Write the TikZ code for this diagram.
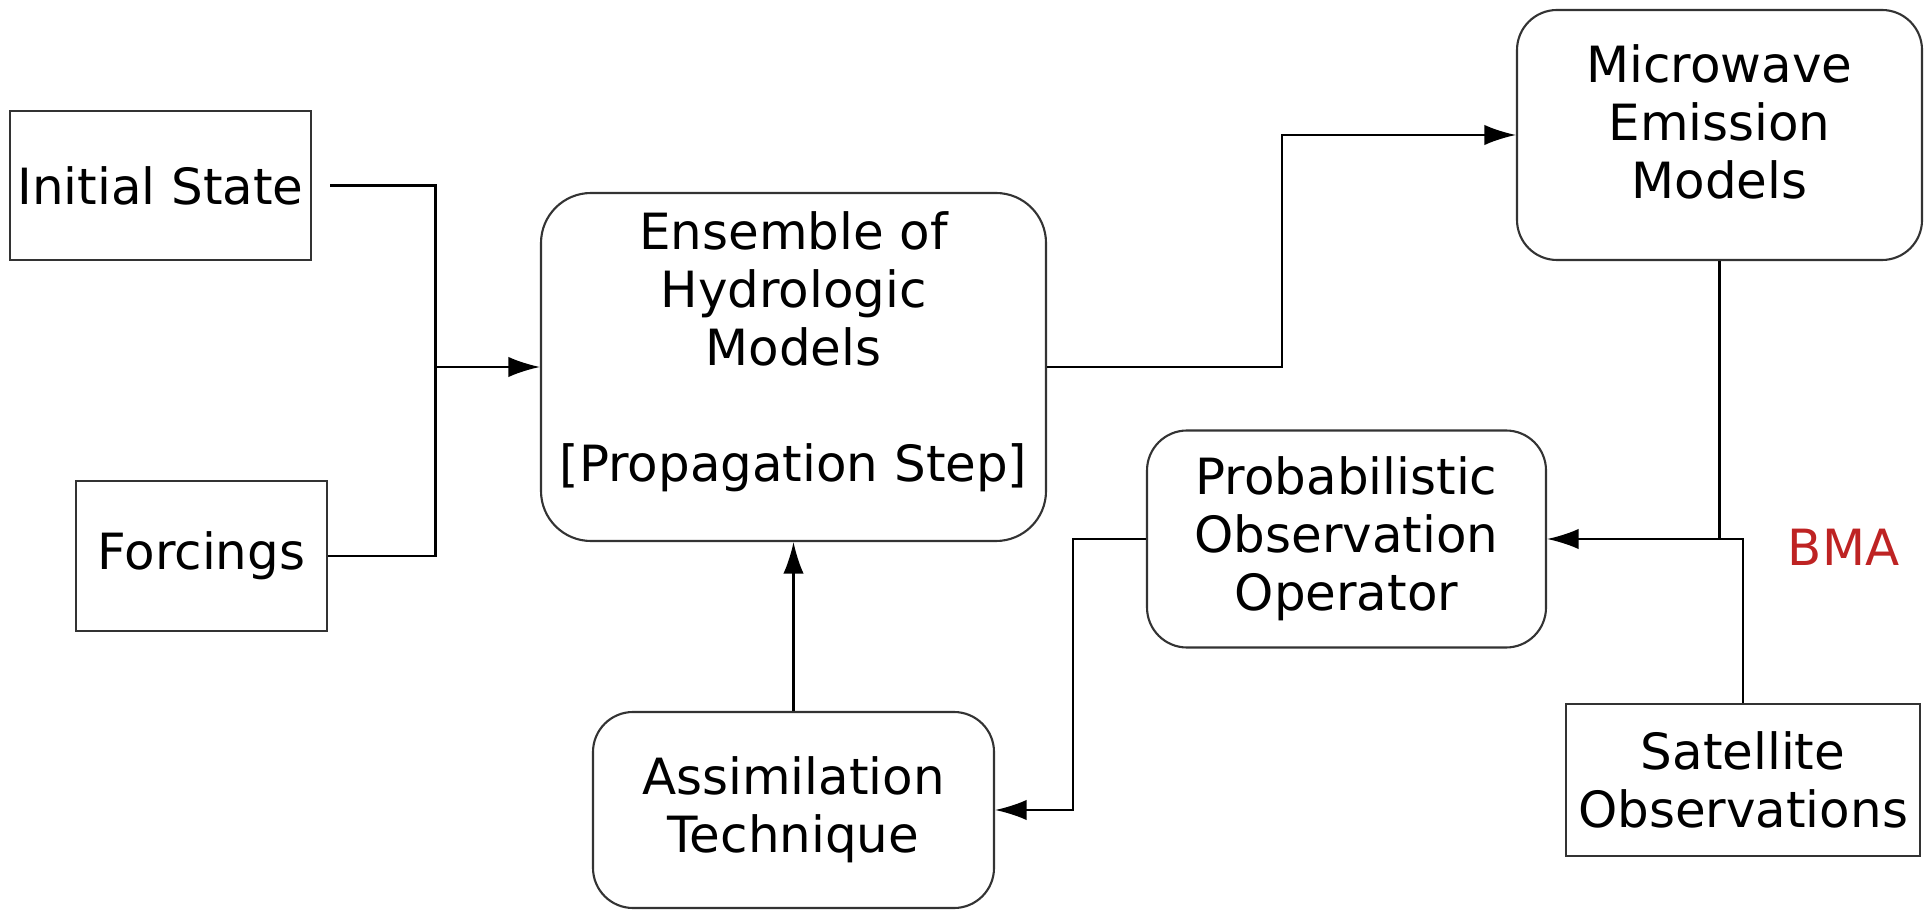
\documentclass[tikz,border=0pt]{standalone}
\usepackage{fontspec}
\setmainfont{DejaVu Sans}
\usetikzlibrary{arrows.meta}
\definecolor{bmared}{RGB}{190,35,35}

\begin{document}
\begin{tikzpicture}[
        every node/.style={font=\fontsize{14.2}{16.5}\selectfont, align=center, inner sep=0pt},
        sqbox/.style={draw=black!80, line width=0.6pt},
        rndbox/.style={draw=black!80, line width=0.6pt, rounded corners=0.4cm},
        wire/.style={line width=0.6pt},
        >={Latex[length=9pt,width=5.8pt]}]
        \useasboundingbox (0,0) rectangle (19.29,-9.10);
        \node[sqbox, minimum width=3.01cm, minimum height=1.49cm] (init) at (1.605,-1.855) {Initial State};
        \node[sqbox, minimum width=2.51cm, minimum height=1.50cm] (forc) at (2.015,-5.56) {Forcings};
        \node[rndbox, rounded corners=0.5cm, minimum width=5.05cm, minimum height=3.48cm] (ens) at (7.935,-3.67) {Ensemble of\\Hydrologic\\Models\\[16.5pt]{[Propagation Step]}\rule[-0.41cm]{0pt}{0pt}};
        \node[rndbox, minimum width=4.05cm, minimum height=2.50cm] (mw) at (17.195,-1.35) {Microwave\\Emission\\Models\rule[-0.27cm]{0pt}{0pt}};
        \node[rndbox, minimum width=3.99cm, minimum height=2.17cm] (prob) at (13.465,-5.39) {Probabilistic\\Observation\\Operator};
        \node[rndbox, minimum width=4.01cm, minimum height=1.96cm] (assim) at (7.935,-8.10) {Assimilation\\Technique};
        \node[sqbox, minimum width=3.54cm, minimum height=1.52cm] (sat) at (17.43,-7.80) {Satellite\\Observations};
        \node[text=bmared] (bma) at (18.435,-5.475) {BMA};

        \coordinate (jn) at (4.355,-3.67);
        \coordinate (up) at (12.82,-3.67);
        \coordinate (split) at (mw.south |- prob.east);
        \coordinate (down) at (10.73,-5.39);

        \draw[wire, shorten <=0.18cm] (init.east) -| (jn) |- (forc.east);
        \draw[wire, ->] (jn) -- (ens.west);
        \draw[wire, ->] (ens.east) -- (up) |- (mw.west);
        \draw[wire] (mw.south) -- (split);
        \draw[wire, ->] (sat.north) |- (prob.east);
        \draw[wire, ->] (prob.west) -- (down) |- (assim.east);
        \draw[wire, ->] (assim.north) -- (ens.south);
        %\draw[wire, dashed] (split) -- (bma.west);
\end{tikzpicture}
\end{document}
